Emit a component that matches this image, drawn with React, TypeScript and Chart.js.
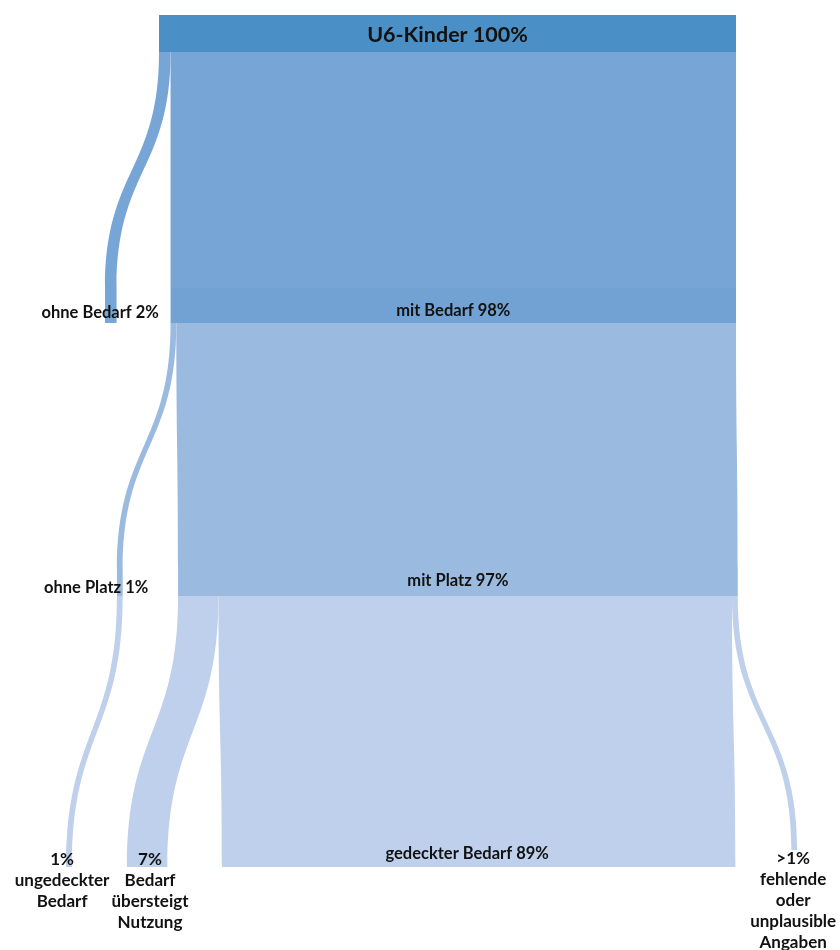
import React, { useEffect, useRef } from "react";
import { Chart, registerables } from "chart.js";

Chart.register(...registerables);

// ---------- data ----------
const nodeNames = [
  "U6-Kinder",
  "ohne Bedarf",
  "mit Bedarf",
  "ohne Platz",
  "mit Platz",
  "ungedeckter Bedarf",
  "Bedarf übersteigt Nutzung",
  "gedeckter Bedarf",
  "fehlende oder unplausible Angaben",
];
const nodeValues = [100, 2, 98, 1, 97, 1, 7, 89, 1];
const nodeLabelLines = [
  ["U6-Kinder 100%"],
  ["ohne Bedarf 2%"],
  ["mit Bedarf 98%"],
  ["ohne Platz 1%"],
  ["mit Platz 97%"],
  ["1%", "ungedeckter", "Bedarf"],
  ["7%", "Bedarf", "übersteigt", "Nutzung"],
  ["gedeckter Bedarf 89%"],
  [">1%", "fehlende", "oder", "unplausible", "Angaben"],
];
const flowSources = [0, 0, 2, 2, 3, 4, 4, 4];
const flowTargets = [1, 2, 3, 4, 5, 6, 7, 8];
const flowValues = [2, 98, 1, 97, 1, 7, 89, 1];

// ---------- layout (x in percent units, y in layout units) ----------
const X_MIN = -27.56;
const X_MAX = 118.02;
const Y_MIN = 0;
const Y_MAX = 950;
const nodeLeft = [0, -9.36, 2, -7.3, 3.3, -16.1, -5.55, 10.9, 109.6];
const nodeTop = [15, 288, 288, 570, 570, 867, 867, 867, 850];
const nodeBottom = [52, 323, 323, 596, 596, 867, 867, 867, 850];
const nodeColors = ["#4a90c6", "#76a5d6", "#72a2d3", "#9bbae0", "#9bbae0", "#bed0eb", "#bed0eb", "#bed0eb", "#bed0eb"];
const flowColors = ["#76a5d6", "#76a5d6", "#9bbae0", "#9bbae0", "#bed0eb", "#bed0eb", "#bed0eb", "#bed0eb"];
const labelX = [50, -10.2, 51, -10.9, 51.8, -16.8, -1.56, 53.4, 109.9];
const labelY = [35, 313, 311, 588, 581, 860, 860, 854, 859];
const labelSize = [21.5, 16.5, 16.5, 16.5, 16.5, 17, 17, 16.5, 17];
const LINE_H = 21;

const sankeyPlugin = {
  id: "sankeyPlugin",
  afterDatasetsDraw(chart: any) {
    const ctx = chart.ctx as CanvasRenderingContext2D;
    const xs = chart.scales.x;
    const ys = chart.scales.y;
    const X = (v: number) => xs.getPixelForValue(v);
    const Y = (v: number) => ys.getPixelForValue(v);
    const outOff = nodeValues.map(() => 0);
    const inOff = nodeValues.map(() => 0);
    ctx.save();
    // flows
    flowValues.forEach((v, i) => {
      const s = flowSources[i];
      const t = flowTargets[i];
      const sx0 = nodeLeft[s] + outOff[s];
      const sx1 = sx0 + v;
      const tx0 = nodeLeft[t] + inOff[t];
      const tx1 = tx0 + v;
      outOff[s] += v;
      inOff[t] += v;
      const y0 = Y(nodeBottom[s]);
      const y1 = Y(nodeTop[t]);
      const ym = (y0 + y1) / 2;
      ctx.beginPath();
      ctx.moveTo(X(sx0), y0);
      ctx.bezierCurveTo(X(sx0), ym, X(tx0), ym, X(tx0), y1);
      ctx.lineTo(X(tx1), y1);
      ctx.bezierCurveTo(X(tx1), ym, X(sx1), ym, X(sx1), y0);
      ctx.closePath();
      ctx.fillStyle = flowColors[i];
      ctx.fill();
    });
    // nodes
    nodeValues.forEach((v, n) => {
      if (nodeBottom[n] <= nodeTop[n]) return;
      const x0 = X(nodeLeft[n]);
      const x1 = X(nodeLeft[n] + v);
      const y0 = Y(nodeTop[n]);
      const y1 = Y(nodeBottom[n]);
      ctx.fillStyle = nodeColors[n];
      ctx.fillRect(x0, y0, x1 - x0, y1 - y0);
    });
    // labels
    ctx.fillStyle = "#111111";
    ctx.textAlign = "center";
    ctx.textBaseline = "middle";
    nodeLabelLines.forEach((lines, n) => {
      ctx.font = `bold ${labelSize[n]}px Lato, "Open Sans", sans-serif`;
      lines.forEach((ln, k) => {
        ctx.fillText(ln, X(labelX[n]), Y(labelY[n]) + k * LINE_H);
      });
    });
    ctx.restore();
  },
};

export default function App() {
  const ref = useRef<HTMLCanvasElement | null>(null);
  useEffect(() => {
    document.body.style.margin = "0";
    const canvas = ref.current;
    if (!canvas) return;
    const chart = new Chart(canvas, {
      type: "scatter",
      data: {
        labels: nodeNames,
        datasets: [{ data: [], pointRadius: 0 }],
      },
      options: {
        animation: false,
        responsive: false,
        devicePixelRatio: window.devicePixelRatio || 1,
        layout: { padding: 0 },
        scales: {
          x: { type: "linear", min: X_MIN, max: X_MAX, display: false },
          y: { type: "linear", min: Y_MIN, max: Y_MAX, reverse: true, display: false },
        },
        plugins: { legend: { display: false }, tooltip: { enabled: false }, title: { display: false } },
      },
      plugins: [sankeyPlugin],
    });
    return () => chart.destroy();
  }, []);
  return (
    <div style={{ width: 840, height: 950, background: "#ffffff" }}>
      <canvas ref={ref} width={840} height={950} style={{ display: "block", width: 840, height: 950 }} />
    </div>
  );
}
